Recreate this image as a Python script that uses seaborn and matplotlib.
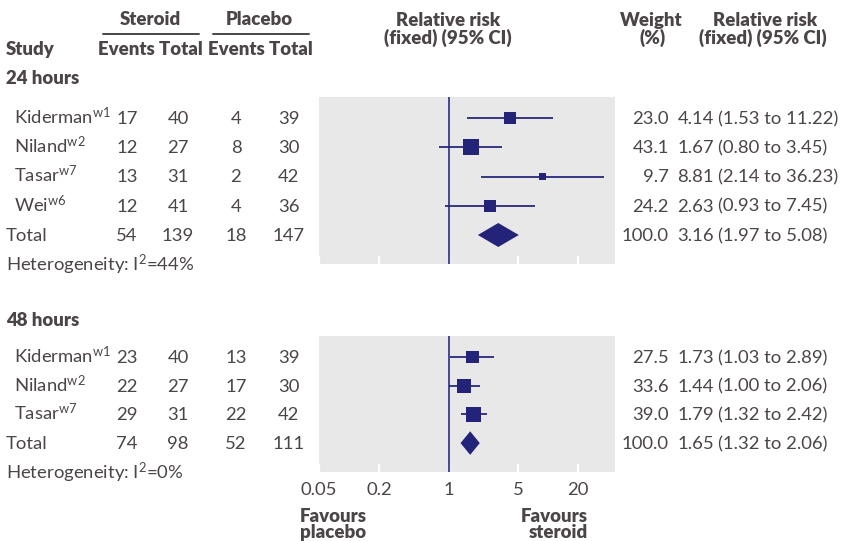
import numpy as np
import pandas as pd
import seaborn as sns
import matplotlib
matplotlib.use("Agg")
import matplotlib.pyplot as plt
from matplotlib.lines import Line2D

# 24 hours
studies_24 = ["Kiderman", "Niland", "Tasar", "Wei"]
refs_24 = ["w1", "w2", "w7", "w6"]
ster_ev_24 = [17, 12, 13, 12]
ster_tot_24 = [40, 27, 31, 41]
plac_ev_24 = [4, 8, 2, 4]
plac_tot_24 = [39, 30, 42, 36]
weight_24 = [23.0, 43.1, 9.7, 24.2]
rr_24 = [4.14, 1.67, 8.81, 2.63]
lo_24 = [1.53, 0.80, 2.14, 0.93]
hi_24 = [11.22, 3.45, 36.23, 7.45]
total_24 = [54, 139, 18, 147]
total_rr_24 = [3.16, 1.97, 5.08]
i2_24 = 44

# 48 hours
studies_48 = ["Kiderman", "Niland", "Tasar"]
refs_48 = ["w1", "w2", "w7"]
ster_ev_48 = [23, 22, 29]
ster_tot_48 = [40, 27, 31]
plac_ev_48 = [13, 17, 22]
plac_tot_48 = [39, 30, 42]
weight_48 = [27.5, 33.6, 39.0]
rr_48 = [1.73, 1.44, 1.79]
lo_48 = [1.03, 1.00, 1.32]
hi_48 = [2.89, 2.06, 2.42]
total_48 = [74, 98, 52, 111]
total_rr_48 = [1.65, 1.32, 2.06]
i2_48 = 0

xticks = [0.05, 0.2, 1, 5, 20]
xtick_labels = ["0.05", "0.2", "1", "5", "20"]

sns.set_theme(style="white")
plt.rcParams["font.family"] = ["Lato", "DejaVu Sans"]
plt.rcParams["mathtext.fontset"] = "custom"
plt.rcParams["mathtext.rm"] = "Lato"
plt.rcParams["mathtext.it"] = "Lato"

W, H = 842, 541
TXT = "#4b4546"
NAVY = "#24237a"
GREY = "#e8e8e8"
FS = 13.3
FSB = 13.4

fig = plt.figure(figsize=(W / 100, H / 100), dpi=100)


def px(x, y):
    return x / W, 1 - y / H


def put(x, y, s, ha="left", bold=False):
    fig.text(*px(x, y + 6), s, ha=ha, va="baseline", color=TXT,
             fontsize=FSB if bold else FS,
             fontweight="heavy" if bold else "normal")


# headers
put(150, 19, "Steroid", "center", True)
put(259, 19, "Placebo", "center", True)
for x0, x1 in [(103, 199), (213, 309)]:
    fig.add_artist(Line2D([x0 / W, x1 / W], [1 - 33.5 / H] * 2, color=TXT, lw=1.4))
put(6, 49, "Study", bold=True)
put(150, 49, "Events Total", "center", True)
put(260, 49, "Events Total", "center", True)
put(448, 20, "Relative risk", "center", True)
put(448, 38, "(fixed) (95% CI)", "center", True)
put(651, 20, "Weight", "center", True)
put(653, 38, "(%)", "center", True)
put(765, 20, "Relative risk", "center", True)
put(763, 38, "(fixed) (95% CI)", "center", True)


def section(label, label_y, top, step, studies, refs, sev, stot, pev, ptot,
            wt, rr, lo, hi, tot, trr, i2, show_labels):
    put(6, label_y, label, bold=True)
    n = len(studies)
    ys = [top + i * step for i in range(n + 1)]
    for i in range(n):
        y = ys[i]
        put(14, y, studies[i] + r"$^{\mathrm{" + refs[i] + "}}$")
        put(127, y, str(sev[i]), "center")
        put(178, y, str(stot[i]), "center")
        put(236, y, str(pev[i]), "center")
        put(289, y, str(ptot[i]), "center")
        put(669, y, f"{wt[i]:.1f}", "right")
        put(714, y, f"{rr[i]:.2f}", "right")
        put(718, y, f"({lo[i]:.2f} to {hi[i]:.2f})")
    y = ys[n]
    put(6, y, "Total")
    put(127, y, str(tot[0]), "center")
    put(178, y, str(tot[1]), "center")
    put(236, y, str(tot[2]), "center")
    put(289, y, str(tot[3]), "center")
    put(669, y, "100.0", "right")
    put(714, y, f"{trr[0]:.2f}", "right")
    put(718, y, f"({trr[1]:.2f} to {trr[2]:.2f})")
    put(6, y + 30, r"Heterogeneity: I$^{\mathrm{2}}$=" + f"{i2}%")

    # forest panel
    ptop = top - 0.72 * step
    pbot = ys[n] + 1.0 * step
    l, b = px(319, pbot)
    ax = fig.add_axes([l, b, (615 - 319) / W, (pbot - ptop) / H])
    ax.set_facecolor(GREY)
    for sp in ax.spines.values():
        sp.set_visible(False)
    ax.set_xscale("log")
    df = pd.DataFrame({"rr": rr, "lo": lo, "hi": hi, "w": wt, "row": range(n)})
    ax.hlines(df["row"], df["lo"], df["hi"], color=NAVY, lw=1.4, alpha=0.9, zorder=2)
    k = (0.72 * 2.45) ** 2
    sns.scatterplot(data=df, x="rr", y="row", size="w",
                    sizes=(k * min(wt), k * max(wt)), size_norm=(min(wt), max(wt)),
                    marker="s", color=NAVY, linewidth=0, legend=False, ax=ax, zorder=3)
    h = 0.41
    ax.fill([trr[1], trr[0], trr[2], trr[0]], [n, n - h, n, n + h],
            color=NAVY, lw=0, zorder=3)
    ax.axvline(1, color="#3a3990", lw=1.3, zorder=1)
    ax.set_xlim(0.05, 47)
    ax.set_ylim(n + 1.0, -0.72)
    ax.set_yticks([])
    ax.minorticks_off()
    ax.set_xticks(xticks)
    ax.tick_params(axis="x", direction="in", color="white", length=6, width=1.6,
                   bottom=True, pad=7, labelsize=FS, labelcolor=TXT)
    ax.set_xlabel("")
    ax.set_ylabel("")
    if show_labels:
        ax.set_xticklabels(xtick_labels)
    else:
        ax.set_xticklabels([])
    return ax


section("24 hours", 78, 118, 29.25, studies_24, refs_24, ster_ev_24, ster_tot_24,
        plac_ev_24, plac_tot_24, weight_24, rr_24, lo_24, hi_24, total_24,
        total_rr_24, i2_24, False)
section("48 hours", 320, 357, 28.7, studies_48, refs_48, ster_ev_48, ster_tot_48,
        plac_ev_48, plac_tot_48, weight_48, rr_48, lo_48, hi_48, total_48,
        total_rr_48, i2_48, True)

put(300, 516, "Favours", bold=True)
put(300, 532, "placebo", bold=True)
put(588, 516, "Favours", "right", True)
put(588, 532, "steroid", "right", True)

fig.savefig("out.png", dpi=100)
